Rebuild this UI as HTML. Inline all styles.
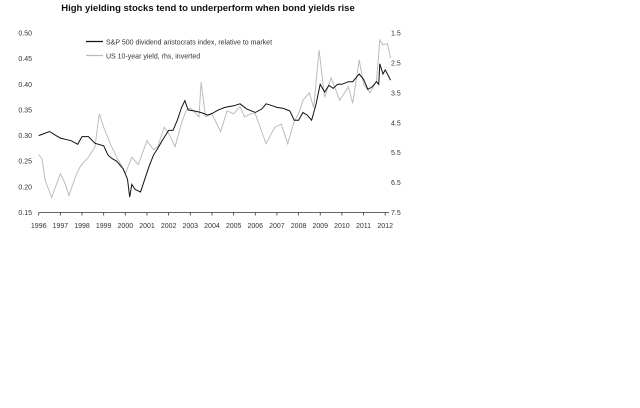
<!DOCTYPE html>
<html><head><meta charset="utf-8"><style>
html,body{margin:0;padding:0;background:#fff;}
body{width:640px;height:403px;overflow:hidden;}
svg text{font-family:"Liberation Sans",Arial,sans-serif;}
</style></head><body>
<svg width="640" height="403" viewBox="0 0 640 403">
<text x="208" y="11" text-anchor="middle" font-size="9.5" font-weight="bold" fill="#111">High yielding stocks tend to underperform when bond yields rise</text>
<g id="axes"></g>
<g id="series"></g>
<g>
<line x1="86" y1="41.5" x2="103" y2="41.5" stroke="#111" stroke-width="1.2"/>
<text x="106" y="44.5" font-size="7" fill="#333">S&amp;P 500 dividend aristocrats index, relative to market</text>
<line x1="86" y1="55.5" x2="103" y2="55.5" stroke="#bbb" stroke-width="1.2"/>
<text x="106" y="58.5" font-size="7" fill="#333">US 10-year yield, rhs, inverted</text>
</g>
</svg>
<script>
const leftTicks=["0.50","0.45","0.40","0.35","0.30","0.25","0.20","0.15"];
const rightTicks=["1.5","2.5","3.5","4.5","5.5","6.5","7.5"];
const years=[1996,1997,1998,1999,2000,2001,2002,2003,2004,2005,2006,2007,2008,2009,2010,2011,2012];
const blackT=[1996.0,1996.2,1996.5,1996.8,1997.0,1997.3,1997.5,1997.8,1998.0,1998.3,1998.6,1999.0,1999.2,1999.4,1999.6,1999.9,2000.1,2000.2,2000.3,2000.45,2000.7,2000.9,2001.1,2001.3,2001.5,2001.7,2002.0,2002.2,2002.4,2002.6,2002.75,2002.9,2003.2,2003.5,2003.8,2004.0,2004.3,2004.6,2005.0,2005.3,2005.6,2006.0,2006.3,2006.5,2006.8,2007.0,2007.3,2007.6,2007.8,2008.0,2008.2,2008.4,2008.6,2008.8,2009.0,2009.2,2009.4,2009.6,2009.8,2010.0,2010.3,2010.5,2010.8,2011.0,2011.2,2011.4,2011.6,2011.7,2011.75,2011.9,2012.0,2012.1,2012.25];
const blackV=[0.300,0.303,0.308,0.300,0.295,0.292,0.290,0.283,0.298,0.298,0.285,0.280,0.262,0.255,0.250,0.235,0.215,0.180,0.205,0.195,0.190,0.215,0.240,0.262,0.275,0.290,0.310,0.310,0.330,0.355,0.368,0.350,0.348,0.345,0.340,0.343,0.350,0.355,0.358,0.362,0.352,0.345,0.352,0.362,0.358,0.355,0.353,0.348,0.330,0.330,0.345,0.340,0.330,0.360,0.400,0.385,0.398,0.392,0.400,0.400,0.405,0.405,0.420,0.410,0.390,0.395,0.405,0.400,0.440,0.420,0.428,0.420,0.408];
const grayT=[1996.0,1996.15,1996.3,1996.6,1996.8,1997.0,1997.2,1997.4,1997.7,1997.9,1998.1,1998.3,1998.6,1998.8,1999.0,1999.3,1999.6,1999.8,2000.0,2000.3,2000.6,2001.0,2001.3,2001.5,2001.8,2002.0,2002.3,2002.6,2002.8,2003.0,2003.4,2003.5,2003.7,2004.0,2004.2,2004.4,2004.7,2005.0,2005.3,2005.5,2005.8,2006.0,2006.2,2006.5,2006.9,2007.2,2007.5,2007.8,2008.0,2008.2,2008.5,2008.7,2008.95,2009.2,2009.5,2009.9,2010.3,2010.5,2010.8,2011.0,2011.3,2011.6,2011.75,2011.9,2012.1,2012.25];
const grayV=[5.56,5.7,6.43,7.0,6.6,6.2,6.5,6.93,6.3,5.99,5.8,5.65,5.3,4.2,4.65,5.2,5.65,5.9,6.2,5.65,5.9,5.1,5.4,5.3,4.65,4.85,5.3,4.5,4.1,4.0,4.3,3.14,4.3,4.2,4.5,4.8,4.1,4.2,3.95,4.3,4.2,4.2,4.6,5.2,4.65,4.55,5.2,4.45,4.2,3.75,3.5,4.0,2.07,3.65,3.0,3.75,3.3,3.85,2.4,3.2,3.5,3.1,1.73,1.9,1.85,2.35];
const X0=38.7,X1=385.2,Y0=33,Y1=212.5;
function xs(t){return X0+(t-1996)/(2012-1996)*(X1-X0);}
function yl(v){return Y0+(0.50-v)/(0.50-0.15)*(Y1-Y0);}
function yr(v){return Y0+(v-1.5)/(7.5-1.5)*(Y1-Y0);}
const NS="http://www.w3.org/2000/svg";
const ax=document.getElementById('axes'),se=document.getElementById('series');
function mk(tag,attrs,parent){const e=document.createElementNS(NS,tag);for(const k in attrs)e.setAttribute(k,attrs[k]);parent.appendChild(e);return e;}
const xa=mk('line',{x1:X0,y1:Y1,x2:389,y2:Y1,stroke:'#333','stroke-width':0.8},ax);


years.forEach(y=>{
  const tk=mk('line',{x1:xs(y),y1:Y1,x2:xs(y),y2:Y1+3,stroke:'#333','stroke-width':0.8},ax);
  
  
  const t=mk('text',{x:xs(y),y:228,'text-anchor':'middle','font-size':7,fill:'#333'},ax);
  t.textContent=y;
  
  
});
leftTicks.forEach(s=>{
  const t=mk('text',{x:32,y:yl(parseFloat(s))+2.5,'text-anchor':'end','font-size':7,fill:'#333'},ax);
  t.textContent=s;
  
  
});
rightTicks.forEach(s=>{
  const t=mk('text',{x:391,y:yr(parseFloat(s))+2.5,'font-size':7,fill:'#333'},ax);
  t.textContent=s;
  
  
});
const g=mk('polyline',{points:grayT.map((t,i)=>xs(t).toFixed(1)+','+yr(grayV[i]).toFixed(1)).join(' '),fill:'none',stroke:'#bdbdbd','stroke-width':1},se);


const b=mk('polyline',{points:blackT.map((t,i)=>xs(t).toFixed(1)+','+yl(blackV[i]).toFixed(1)).join(' '),fill:'none',stroke:'#111','stroke-width':1},se);


</script>
</body></html>
